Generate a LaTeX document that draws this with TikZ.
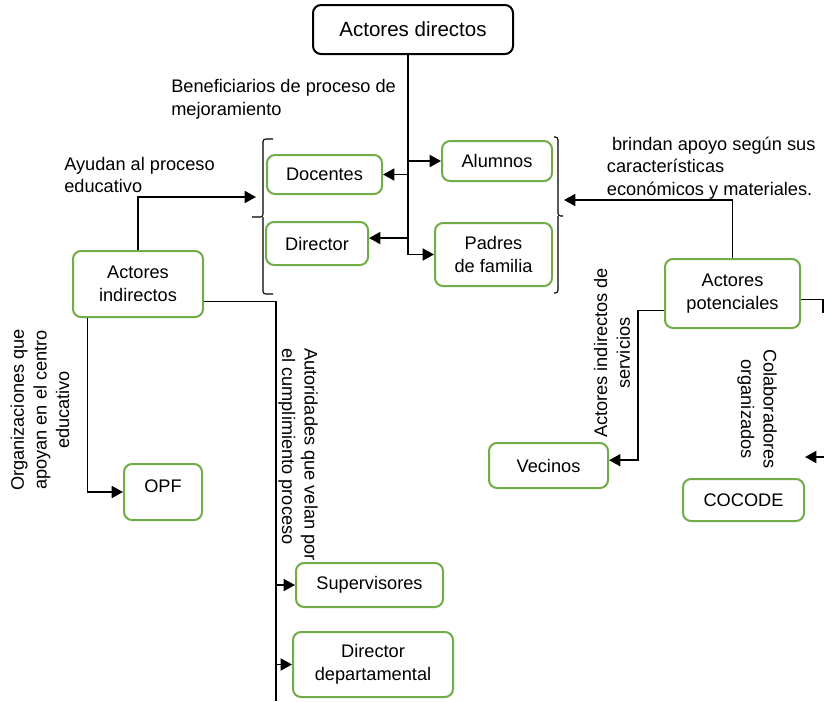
\documentclass[tikz,border=0pt]{standalone}
\usepackage{fontspec}
\setmainfont{Liberation Sans}
\usetikzlibrary{arrows.meta}
\definecolor{boxgreen}{RGB}{112,173,71}
\begin{document}
\begin{tikzpicture}[x=0.75pt,y=-0.75pt,
  box/.style={draw=boxgreen, line width=1.5pt, rounded corners=6pt, fill=white,
    inner sep=0pt, align=center, font=\fontsize{13.65}{17}\selectfont},
  lbl/.style={inner sep=0pt, font=\fontsize{13.65}{16.9}\selectfont},
  conn/.style={line width=0.8pt},
  arr/.style={line width=1.3pt, -{Triangle[length=8.5pt,width=9pt]}},
  brk/.style={line width=0.8pt, rounded corners=2pt}]
\useasboundingbox (0,0) rectangle (824,701);
\clip (0,0) rectangle (824,701);

\node[box, draw=black, minimum width=150pt, minimum height=36.75pt,
  font=\fontsize{15.4}{18}\selectfont] (direct) at (413,29.5) {Actores directos};
\node[box, minimum width=86.25pt, minimum height=29.25pt] (doc) at (324.5,174.5) {Docentes};
\node[box, minimum width=76.5pt, minimum height=32.25pt] (dir) at (317,243.5) {Director};
\node[box, minimum width=82.5pt, minimum height=30pt] (alu) at (497,161) {Alumnos};
\node[box, minimum width=87.75pt, minimum height=47.25pt] (pad) at (493.5,254.5) {Padres\\de familia};
\node[box, minimum width=97.5pt, minimum height=49.5pt] (ind) at (138,284) {Actores\\indirectos};
\node[box, minimum width=58.5pt, minimum height=42pt, text depth=9pt] (opf) at (163,492) {OPF};
\node[box, minimum width=110.25pt, minimum height=33pt] (sup) at (369.5,585) {Supervisores};
\node[box, minimum width=120pt, minimum height=48.75pt] (ddep) at (373,664.5) {Director\\departamental};
\node[box, minimum width=101.25pt, minimum height=51.75pt] (pot) at (732.5,293.5) {Actores\\potenciales};
\node[box, minimum width=89.25pt, minimum height=33.75pt] (vec) at (548.5,465.5) {Vecinos};
\node[box, minimum width=90.75pt, minimum height=31.5pt] (coc) at (743.5,500) {COCODE};

\node[lbl, align=left, anchor=north west] (benef) at (171,79.5) {Beneficiarios de proceso de\\mejoramiento};
\node[lbl, align=left, anchor=north west] (ayudan) at (64,156.8) {Ayudan al proceso\\educativo};
\node[lbl, align=left, anchor=north west] (brindan) at (606.7,136.7) {\ brindan apoyo según sus\\características\\económicos y materiales.};
\node[lbl, rotate=90, align=center] (orgs) at (40,410) {Organizaciones que\\apoyan en el centro\\educativo};
\node[lbl, rotate=-90, align=left, anchor=north west] (autor) at (318,348) {Autoridades que velan por\\el cumplimiento proceso};
\node[lbl, rotate=90, align=center] (serv) at (612,353) {Actores indirectos de\\servicios};
\node[lbl, rotate=-90, align=center] (colab) at (757,409) {Colaboradores\\organizados};

\coordinate (trunk) at (408,0);
\draw[arr] (direct.south -| trunk) |- (pad.west);
\draw[arr] (trunk |- alu.west) -- (alu.west);
\draw[arr] (trunk |- doc.east) -- (doc.east);
\draw[arr] (trunk |- dir.6) -- (dir.6);

\draw[brk] (273,139) -| (263,217) -- (252,217);
\draw[brk] (263,217) |- (273,294);
\draw[brk] (554,137) -| (558,216) -- (563,216);
\draw[brk] (558,216) |- (554,293);

\coordinate (lbrk) at (256,197);
\coordinate (rbrk) at (564,200);
\draw[arr] (ind.north) |- (lbrk);
\draw[arr] (pot.north) |- (rbrk);

\coordinate (abot) at (276,701);
\draw[conn] (ind.-15) -| (abot);
\draw[arr] (abot |- sup.west) -- (sup.west);
\draw[arr] (abot |- ddep.west) -- (ddep.west);
\draw[arr] (ind.-146) |- (opf.west);

\coordinate (vk) at (638,0);
\draw[arr] (pot.194) -| (vk |- vec.5) -- (vec.5);

\coordinate (redge) at (823,313);
\draw[conn] (pot.-5) -| (redge);
\coordinate (rin) at (824,457);
\coordinate (colarr) at (805,457);
\draw[arr] (rin) -- (colarr);
\end{tikzpicture}
\end{document}
